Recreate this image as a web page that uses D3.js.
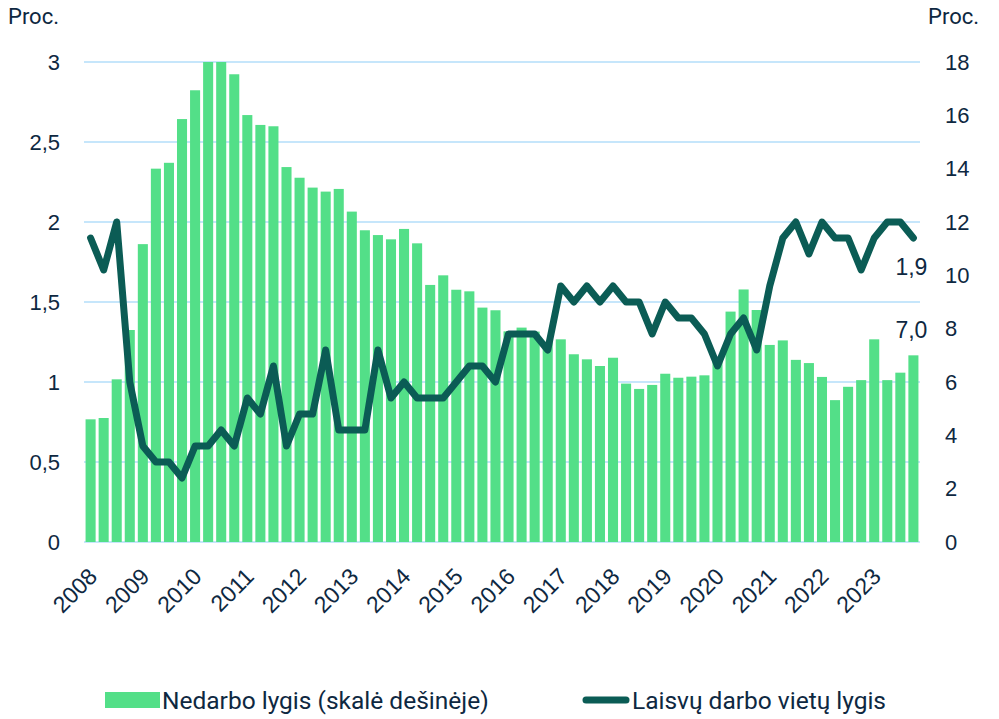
<!DOCTYPE html>
<html>
<head>
<meta charset="utf-8">
<script src="https://cdn.jsdelivr.net/npm/d3@7"></script>
<style>
  body { margin: 0; background: #fff; }
  svg text { fill: #0e2841; }
</style>
</head>
<body>
<div id="chart"></div>
<script>
// quarterly data 2008 Q1 - 2023 Q4
var years = ["2008","2009","2010","2011","2012","2013","2014","2015","2016","2017","2018","2019","2020","2021","2022","2023"];

// Nedarbo lygis, proc. (right scale)
var unemployment = [4.6,4.65,6.1,7.95,11.17,14.0,14.22,15.86,16.94,18.0,
                    18.0,17.54,16.01,15.64,15.59,14.06,13.66,13.29,13.14,13.24,
                    12.39,11.69,11.51,11.35,11.74,11.2,9.64,10.0,9.46,9.4,
                    8.79,8.69,7.9,8.04,7.89,7.5,7.6,7.04,6.85,6.6,
                    6.91,5.94,5.74,5.89,6.31,6.16,6.2,6.25,6.8,8.64,
                    9.47,8.7,7.39,7.56,6.83,6.71,6.19,5.32,5.82,6.07,
                    7.6,6.07,6.35,7.0];

// Laisvų darbo vietų lygis, proc. (left scale)
var vacancies = [1.9,1.7,2.0,1.0,0.6,0.5,0.5,0.4,0.6,0.6,
                 0.7,0.6,0.9,0.8,1.1,0.6,0.8,0.8,1.2,0.7,
                 0.7,0.7,1.2,0.9,1.0,0.9,0.9,0.9,1.0,1.1,
                 1.1,1.0,1.3,1.3,1.3,1.2,1.6,1.5,1.6,1.5,
                 1.6,1.5,1.5,1.3,1.5,1.4,1.4,1.3,1.1,1.3,
                 1.4,1.2,1.6,1.9,2.0,1.8,2.0,1.9,1.9,1.7,
                 1.9,2.0,2.0,1.9];

var leftTicks = [0,0.5,1,1.5,2,2.5,3];
var rightTicks = [0,2,4,6,8,10,12,14,16,18];

var w = 999, h = 719;
var pLeft = 84, pRight = 920, pTop = 62, pBottom = 542;

var lt = d3.formatLocale({decimal: ",", thousands: " ", grouping: [3], currency: ["", ""]});
var fmt = lt.format("~g");
var fmt1 = lt.format(".1f");

var n = unemployment.length;
var x = d3.scaleBand()
          .domain(d3.range(n))
          .range([pLeft, pRight])
          .paddingInner(0.23)
          .paddingOuter(0.12);
var yL = d3.scaleLinear().domain([0,3]).range([pBottom, pTop]);
var yR = d3.scaleLinear().domain([0,18]).range([pBottom, pTop]);

var svg = d3.select("#chart")
            .append("svg")
            .attr("width", w)
            .attr("height", h);

// grid
svg.append("g")
   .selectAll("line")
   .data(leftTicks)
   .enter()
   .append("line")
   .attr("x1", pLeft).attr("x2", pRight)
   .attr("y1", d => yL(d)).attr("y2", d => yL(d))
   .attr("stroke", "#c6e6fb")
   .attr("stroke-width", 2);

// bars
svg.append("g")
   .selectAll("rect")
   .data(unemployment)
   .enter()
   .append("rect")
   .attr("x", (d,i) => x(i))
   .attr("width", x.bandwidth())
   .attr("y", d => yR(d))
   .attr("height", d => pBottom - yR(d))
   .attr("fill", "#53df88");

// line
var line = d3.line()
             .x((d,i) => x(i) + x.bandwidth()/2)
             .y(d => yL(d));

svg.append("path")
   .datum(vacancies)
   .attr("d", line)
   .attr("fill", "none")
   .attr("stroke", "#0b5c55")
   .attr("stroke-width", 7)
   .attr("stroke-linejoin", "round")
   .attr("stroke-linecap", "round");

// left axis labels
svg.append("g")
   .selectAll("text")
   .data(leftTicks)
   .enter()
   .append("text")
   .attr("x", 60)
   .attr("y", d => yL(d))
   .attr("dy", "0.35em")
   .attr("text-anchor", "end")
   .style("font", "22px 'Liberation Sans', Arial, sans-serif")
   .text(d => fmt(d));

// right axis labels
svg.append("g")
   .selectAll("text")
   .data(rightTicks)
   .enter()
   .append("text")
   .attr("x", 945)
   .attr("y", d => yR(d))
   .attr("dy", "0.35em")
   .attr("text-anchor", "start")
   .style("font", "22px 'Liberation Sans', Arial, sans-serif")
   .text(d => d);

// year labels
svg.append("g")
   .selectAll("text")
   .data(years)
   .enter()
   .append("text")
   .attr("text-anchor", "end")
   .attr("transform", (d,i) => "translate(" + (x(i*4) + x.bandwidth()/2 + 8) + ",578) rotate(-45)")
   .style("font", "23px 'Liberation Sans', Arial, sans-serif")
   .text(d => d);

// unit titles
svg.append("text").attr("x", 8).attr("y", 24)
   .style("font", "22px Roboto, sans-serif")
   .text("Proc.");
svg.append("text").attr("x", 979).attr("y", 24).attr("text-anchor", "end")
   .style("font", "22px Roboto, sans-serif")
   .text("Proc.");

// last value labels
svg.append("text")
   .attr("x", x(n-1) + x.bandwidth()/2 - 2)
   .attr("y", yL(vacancies[n-1]) + 37)
   .attr("text-anchor", "middle")
   .style("font", "23px 'Liberation Sans', Arial, sans-serif")
   .text(fmt1(vacancies[n-1]));
svg.append("text")
   .attr("x", x(n-1) + x.bandwidth()/2 - 2)
   .attr("y", yR(unemployment[n-1]) - 17)
   .attr("text-anchor", "middle")
   .style("font", "23px 'Liberation Sans', Arial, sans-serif")
   .text(fmt1(unemployment[n-1]));

// legend
var lg = svg.append("g").style("font", "24.5px Roboto, sans-serif");
lg.append("rect").attr("x", 105).attr("y", 692).attr("width", 55).attr("height", 16).attr("fill", "#53df88");
lg.append("text").attr("x", 162).attr("y", 709).text("Nedarbo lygis (skalė dešinėje)");
lg.append("line").attr("x1", 586).attr("x2", 626).attr("y1", 700).attr("y2", 700)
  .attr("stroke", "#0b5c55").attr("stroke-width", 7).attr("stroke-linecap", "round");
lg.append("text").attr("x", 632).attr("y", 709).text("Laisvų darbo vietų lygis");
</script>
</body>
</html>
